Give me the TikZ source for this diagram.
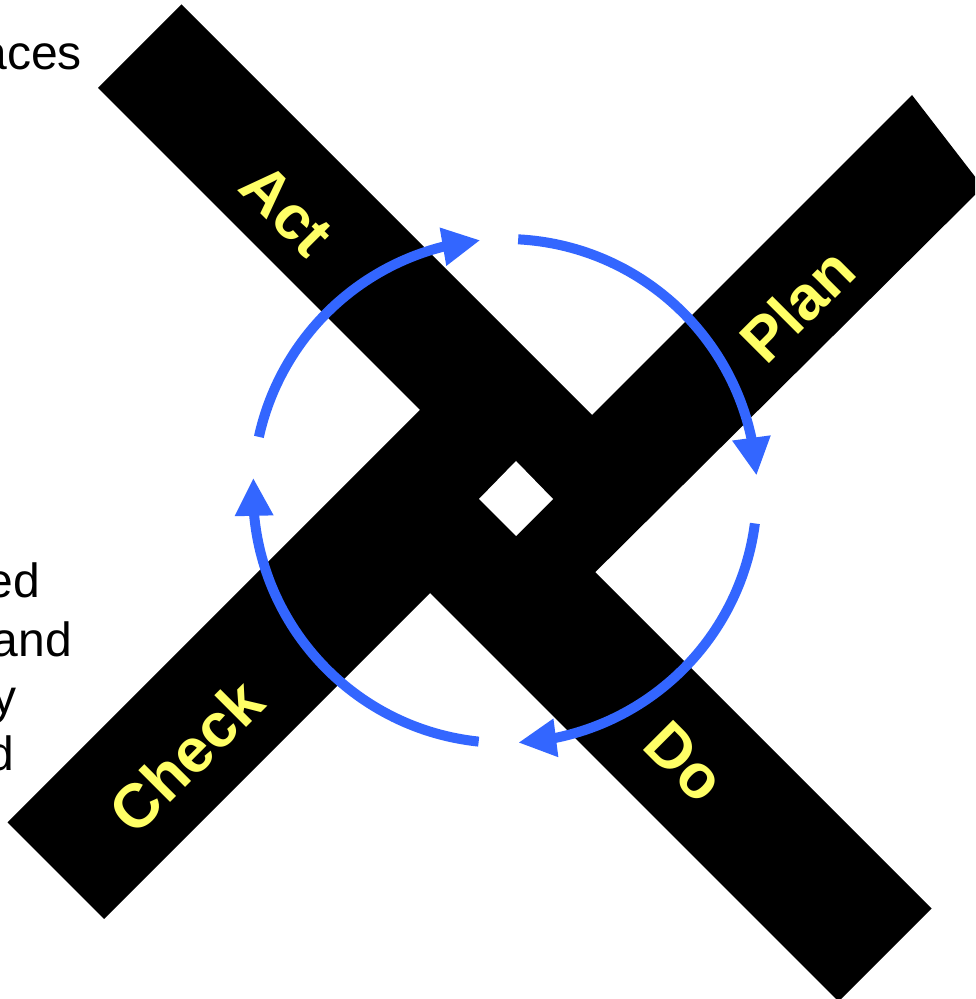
\documentclass[tikz,border=0pt]{standalone}
\usepackage{fontspec}
\setmainfont{Liberation Sans}
\usetikzlibrary{arrows.meta,bending}
\definecolor{cycleblue}{RGB}{51,102,255}
\definecolor{labelyellow}{RGB}{255,255,102}
\begin{document}
\begin{tikzpicture}[x=1pt,y=1pt,
  bar/.style={fill=black},
  hole/.style={fill=white},
  lbl/.style={text=labelyellow, font=\fontsize{62}{62}\selectfont\bfseries, inner sep=0pt},
  side/.style={font=\fontsize{48}{57}\selectfont, inner sep=0pt, anchor=base east},
  cyc/.style={draw=cycleblue, line width=10pt, -{Triangle[length=38pt,width=36pt]}}]
\useasboundingbox (0,0) rectangle (975,999);
\clip (0,0) rectangle (975,999);
\fill[white] (0,0) rectangle (975,999);

% cut-off text at the left
\node[side] (t1) at (82,929) {aces};
\node[side] (t2) at (40,401) {ed};
\node[side] (t3) at (72,342) {and};
\node[side] (t4) at (17,285) {y};
\node[side] (t5) at (14,228) {d};

% four black arms
\fill[bar] (181.5,994.5) -- (98,911) -- (555,454) -- (638.5,537.5) -- cycle;   % Act
\fill[bar] (461.5,560.5) -- (368.5,467.5) -- (838.5,-2.5) -- (931.5,90.5) -- cycle; % Do
\fill[bar] (465,634) -- (7.5,176.5) -- (104,80) -- (561.5,537.5) -- cycle;     % Check
\fill[bar] (912,904) -- (983,812) -- (533.5,365.5) -- (453.5,445.5) -- cycle;   % Plan
% central white square
\fill[hole] (516,538) -- (479,500) -- (516,463) -- (553,500) -- cycle;

% labels
\node[lbl, rotate=-45] (act) at (287,789) {Act};
\node[lbl, rotate=45] (plan) at (797,694) {Plan};
\node[lbl, rotate=45] (check) at (186,243) {Check};
\node[lbl, rotate=-45] (do) at (685,237) {Do};

% cycle arrows
\coordinate (c) at (505,508);
\draw[cyc] ([shift={(87:252pt)}]c) arc[start angle=87, end angle=3.5, radius=252pt];
\draw[cyc] ([shift={(-7.4:252pt)}]c) arc[start angle=-7.4, end angle=-87, radius=252pt];
\draw[cyc] ([shift={(-96:252pt)}]c) arc[start angle=-96, end angle=-183, radius=252pt];
\draw[cyc] ([shift={(167.6:252pt)}]c) arc[start angle=167.6, end angle=95.6, radius=252pt];
\end{tikzpicture}
\end{document}
